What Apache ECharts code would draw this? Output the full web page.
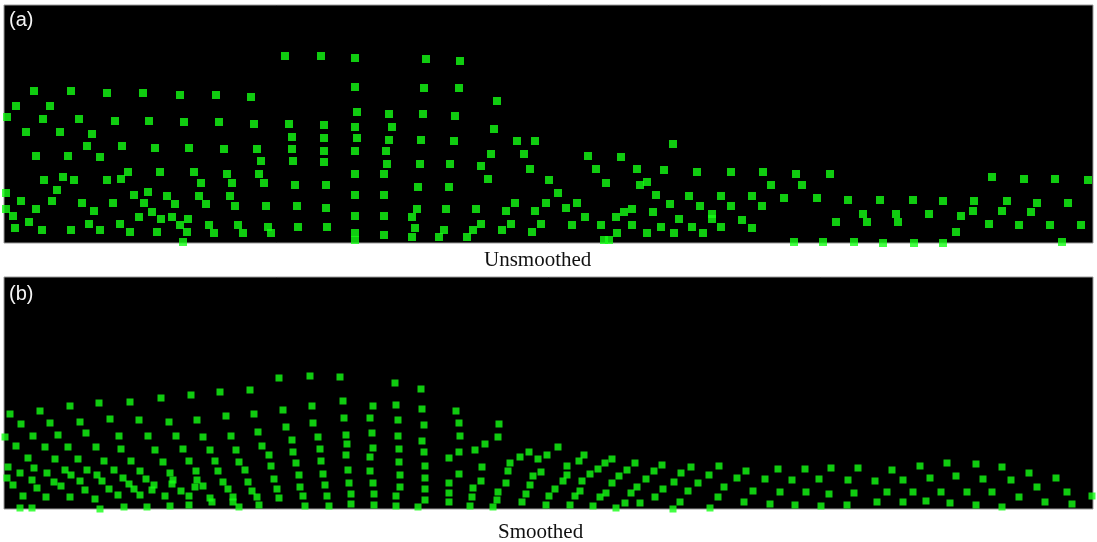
<!DOCTYPE html>
<html><head><meta charset="utf-8">
<script src="https://cdn.jsdelivr.net/npm/echarts@6/dist/echarts.min.js"></script>
<style>html,body{margin:0;padding:0;background:#fff;}#c{width:1097px;height:542px;}</style>
</head><body><div id="c"></div>
<script>
// Panel labels and captions
const panelLabels = ['(a)', '(b)'];
const captions = ['Unsmoothed', 'Smoothed'];
// Horizontal / vertical extents of each panel (picture units)
const xRange = [4, 1093];
const yRangeA = [5, 243];
const yRangeB = [277, 509];

// Particle positions, unsmoothed (x, depth)
const unsmoothed = [
[34,91],[71,91],[107,93],[143,93],[180,95],[216,95],[251,97],
[16,106],[50,106],
[7,117],[43,119],[79,119],[115,121],[149,121],[184,122],[219,122],[254,124],
[26,132],[60,132],[92,134],
[87,146],[122,146],[155,148],[189,148],[224,149],[257,149],
[36,156],[68,156],[100,157],
[261,161],
[128,172],[160,172],[194,172],[227,174],[259,174],
[44,180],[63,177],[74,180],[107,180],[121,179],
[201,183],[232,183],[264,183],
[57,190],[148,192],
[6,193],[134,195],[167,196],[199,196],[230,196],
[21,201],[52,201],[82,203],[113,203],[144,203],[175,204],[206,204],[235,206],[266,206],
[6,209],[36,209],[94,211],[152,212],
[13,216],[139,217],[161,219],[172,217],[188,219],
[29,222],[89,224],[120,224],[180,225],[209,225],[238,225],[268,227],
[15,228],[42,230],[71,230],[100,230],[130,232],[157,232],[187,232],[214,233],[243,233],[271,233],
[183,242],
[285,56],[321,56],[355,58],[426,59],[460,61],
[355,87],[424,88],[459,88],
[497,101],
[357,112],[389,114],[423,114],[455,116],
[289,124],[324,125],[355,127],[392,127],
[494,129],
[292,137],[324,138],[357,138],[389,140],[421,140],[454,141],
[517,141],[535,141],
[292,149],[324,151],[355,151],[386,151],
[491,154],[524,154],
[293,161],[324,162],[387,164],[420,164],[450,164],[481,166],
[530,169],
[355,174],[384,174],
[488,179],[549,180],
[295,185],[326,185],[418,187],[449,187],
[355,195],[384,195],
[515,203],[546,203],
[297,206],[326,208],[417,209],[446,209],[476,209],[506,211],[535,211],
[355,216],[384,216],[412,217],
[481,224],[511,224],[541,224],
[298,227],[327,227],[415,228],[444,230],[473,230],[502,230],[532,232],
[355,233],[384,235],[412,237],[439,237],[467,237],
[355,240],
[673,144],
[588,156],[621,157],
[596,169],[637,169],[664,170],[697,172],[731,172],[763,172],[796,174],
[606,183],[640,185],[647,182],[771,185],[802,185],
[558,193],[656,195],[689,196],[721,196],[752,196],[784,198],
[577,203],[670,204],[700,206],[731,206],[762,206],
[566,208],[632,209],[624,212],[653,212],[712,214],
[585,217],[616,217],[679,219],[712,219],[742,220],
[572,225],[601,225],[632,225],[661,227],[692,227],[721,227],[752,228],
[617,233],[647,233],[674,233],[703,233],
[604,240],[609,240],[794,242],
[830,174],[992,177],[1024,179],[1055,179],[1088,180],
[817,198],[848,200],[880,200],[913,200],[943,201],[974,201],[1007,201],[1037,203],[1068,203],
[863,214],[896,214],[929,214],[961,216],[973,211],[1002,211],[1031,212],
[836,222],[867,222],[898,222],[989,224],[1019,225],[1050,225],[1081,225],
[956,232],
[823,242],[854,242],[883,243],[914,243],[943,243],[1062,242]
];

// Particle positions, smoothed (x, depth)
const smoothed = [
[279,378],[250,390],[220,392],[191,395],[161,398],[130,402],[99,403],[70,406],[40,411],[10,414],
[254,414],[226,416],[197,420],[169,422],[139,420],[110,419],[80,422],[50,423],[21,424],
[258,432],[231,436],[203,437],[176,436],[148,436],[119,436],[86,433],[58,435],[33,436],[5,437],
[262,446],[236,450],[210,450],[183,449],[155,450],[121,449],[96,447],[68,447],[45,447],[16,446],
[269,455],[239,462],[215,461],[189,461],[163,462],[131,461],[104,461],[78,459],[55,459],[28,458],
[271,466],[245,470],[218,471],[196,471],[170,473],[140,471],[114,470],[87,470],[65,470],[34,468],[8,467],
[274,479],[248,482],[223,482],[197,480],[173,480],[146,479],[123,478],[97,475],[71,475],[47,473],[20,473],[7,478],
[277,489],[252,491],[228,489],[203,486],[181,491],[154,485],[134,489],[109,489],[85,490],[61,486],[54,482],[37,488],[32,480],[13,485],[80,481],[102,481],[129,484],[152,490],[172,484],[195,487],
[210,498],[233,497],[257,497],[189,496],[165,496],[140,495],[118,495],[95,499],[70,497],[46,497],[23,496],[212,502],[233,502],
[20,508],[32,508],[100,509],[124,507],[147,507],[170,506],[189,505],[239,507],[259,505],
[310,376],[340,377],[395,383],[421,389],
[283,410],[312,406],[343,401],[373,406],[396,405],[422,409],[456,411],
[286,427],[313,423],[344,418],[370,418],[398,420],[424,425],[459,423],[499,424],
[292,440],[318,437],[346,435],[372,433],[398,436],[422,441],[460,436],[498,437],[485,444],[475,450],
[293,452],[320,449],[347,444],[373,448],[399,449],[424,452],[459,452],[449,458],
[296,463],[321,461],[346,455],[370,457],[399,462],[425,466],[482,467],[510,463],[520,457],[529,452],[538,459],[547,455],
[299,475],[323,474],[348,470],[370,471],[400,475],[425,478],[459,474],[481,481],[508,471],[533,476],[541,472],
[300,487],[325,485],[349,483],[373,483],[400,487],[425,489],[449,483],[473,488],[506,483],[530,485],
[303,496],[327,496],[351,494],[374,494],[396,496],[425,500],[449,493],[472,497],[498,492],[526,494],[549,496],
[279,498],[305,506],[329,506],[351,504],[374,505],[396,506],[418,507],[449,502],[470,506],[497,500],[522,502],[546,505],
[440,510],[493,507],
[558,447],[584,455],[612,459],[605,463],[579,461],[635,463],[662,465],[691,467],[719,466],[778,469],[805,469],
[567,466],[598,469],[627,470],[654,471],[681,473],[709,475],[746,471],[737,478],[765,479],[792,480],[819,479],
[567,475],[590,474],[619,476],[646,479],[674,482],[698,483],[724,487],
[563,481],[582,481],[612,483],[637,487],[663,489],[688,491],[753,491],[780,492],[806,492],
[555,489],[580,491],[606,493],[631,493],[655,497],[718,497],[744,502],[770,504],[795,505],
[575,496],[600,497],[625,503],[640,503],[680,502],
[570,505],[593,506],[616,508],[673,509],[710,508],
[831,468],[858,468],[892,470],[920,466],[947,463],[976,464],[1002,467],[1029,473],[1056,478],
[848,480],[875,481],[903,480],[930,478],[956,476],[983,479],[1011,480],[1037,487],[1067,492],[1092,496],
[829,494],[854,493],[887,492],[913,492],[941,492],[967,492],[992,492],[1019,497],[1045,502],[1072,504],
[821,506],[847,505],[877,502],[903,502],[926,501],[950,503],[976,505],[1002,507]
];

const chart = echarts.init(document.getElementById('c'), null, {renderer: 'canvas'});
const green = '#14ff14';
const gridBase = {left: 4, right: 4, show: true, backgroundColor: '#000', borderColor: '#9a9a9a', borderWidth: 1};
const labelStyle = {color: '#f4f4f4', fontSize: 20, fontWeight: 'normal', fontFamily: 'Liberation Sans, Arial'};
const capStyle = {color: '#111', fontSize: 21, fontWeight: 'normal', fontFamily: 'Liberation Serif, Times New Roman, serif'};
chart.setOption({
  animation: false,
  backgroundColor: '#fff',
  title: [
    {text: panelLabels[0], left: 9, top: 10, padding: 0, textStyle: labelStyle},
    {text: panelLabels[1], left: 9, top: 284, padding: 0, textStyle: labelStyle},
    {text: captions[0], left: 484, top: 250, padding: 0, textStyle: capStyle},
    {text: captions[1], left: 498, top: 522, padding: 0, textStyle: capStyle}
  ],
  grid: [
    Object.assign({top: yRangeA[0], height: yRangeA[1] - yRangeA[0]}, gridBase),
    Object.assign({top: yRangeB[0], height: yRangeB[1] - yRangeB[0]}, gridBase)
  ],
  xAxis: [
    {gridIndex: 0, type: 'value', min: xRange[0], max: xRange[1], show: false},
    {gridIndex: 1, type: 'value', min: xRange[0], max: xRange[1], show: false}
  ],
  yAxis: [
    {gridIndex: 0, type: 'value', min: yRangeA[0], max: yRangeA[1], inverse: true, show: false},
    {gridIndex: 1, type: 'value', min: yRangeB[0], max: yRangeB[1], inverse: true, show: false}
  ],
  series: [
    {type: 'scatter', xAxisIndex: 0, yAxisIndex: 0, data: unsmoothed, symbol: 'rect', symbolSize: 8, clip: true, itemStyle: {color: green}},
    {type: 'scatter', xAxisIndex: 1, yAxisIndex: 1, data: smoothed, symbol: 'rect', symbolSize: 7, clip: true, itemStyle: {color: green}}
  ]
});
</script></body></html>
